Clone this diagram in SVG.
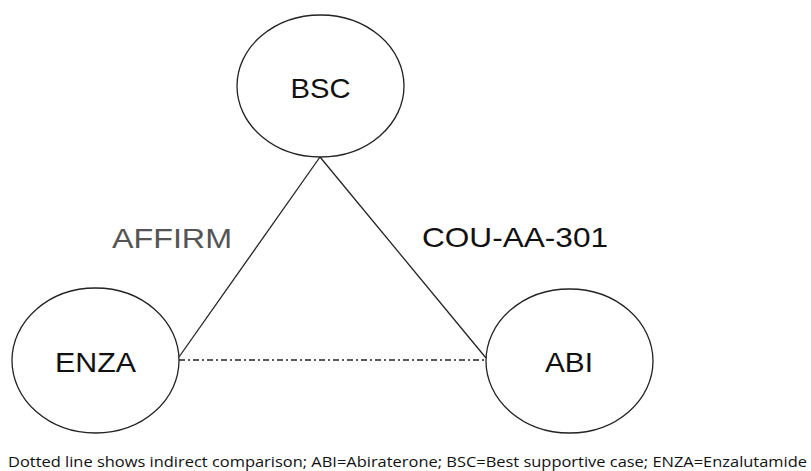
<svg xmlns="http://www.w3.org/2000/svg" width="811" height="471" viewBox="0 0 811 471">
<style>
.node{fill:#fff;stroke:#222;stroke-width:1.3}
.lbl{font-family:"Liberation Sans",Arial,sans-serif;font-size:28px;fill:#111;text-anchor:middle}
.edge{stroke:#222;stroke-width:1.3;fill:none}
.elbl{font-family:"Liberation Sans",Arial,sans-serif;font-size:28px}
</style>
<rect width="811" height="471" fill="#fff"/>
<g id="connectors">
<line class="edge" x1="320" y1="157" x2="179" y2="357"/>
<line class="edge" x1="320" y1="157" x2="486" y2="358"/>
<line class="edge" x1="179" y1="360" x2="486" y2="360" stroke-dasharray="6,3,2,3"/>
<text class="elbl" x="112" y="248" fill="#555" textLength="120" lengthAdjust="spacingAndGlyphs">AFFIRM</text>
<text class="elbl" x="422" y="247" fill="#111" textLength="186" lengthAdjust="spacingAndGlyphs">COU-AA-301</text>
</g>
<g id="BSC">
<ellipse class="node" cx="320.5" cy="86" rx="83.5" ry="71"/>
<text class="lbl" x="320.5" y="98" textLength="60" lengthAdjust="spacingAndGlyphs">BSC</text>
</g>
<g id="ENZA">
<ellipse class="node" cx="95.5" cy="360.5" rx="83.5" ry="72.5"/>
<text class="lbl" x="95.5" y="372" textLength="81" lengthAdjust="spacingAndGlyphs">ENZA</text>
</g>
<g id="ABI">
<ellipse class="node" cx="569.5" cy="361" rx="83.5" ry="72"/>
<text class="lbl" x="569" y="372" textLength="48" lengthAdjust="spacingAndGlyphs">ABI</text>
</g>
<text x="8" y="467" font-family="Open Sans,sans-serif" font-size="15" fill="#111" textLength="799" lengthAdjust="spacingAndGlyphs">Dotted line shows indirect comparison; ABI=Abiraterone; BSC=Best supportive case; ENZA=Enzalutamide</text>
</svg>
